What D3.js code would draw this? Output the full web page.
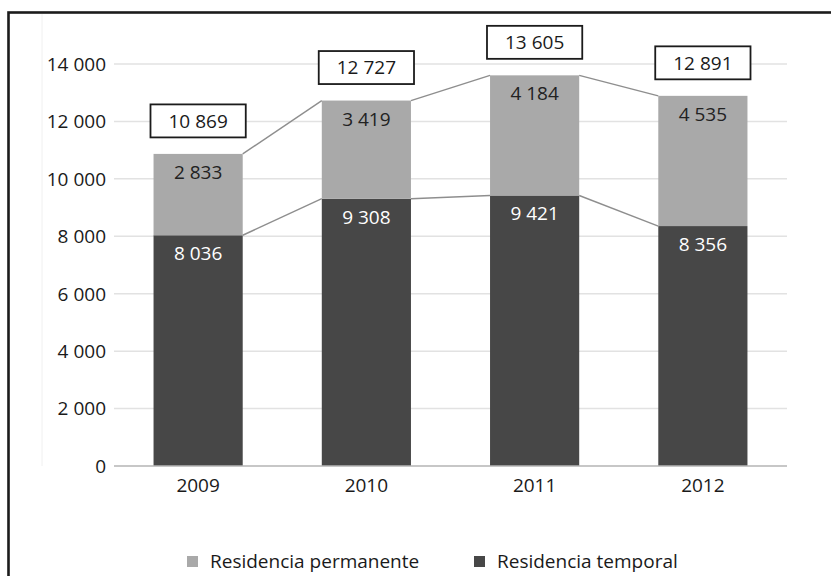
<!DOCTYPE html>
<html>
<head>
<meta charset="utf-8">
<script src="https://cdn.jsdelivr.net/npm/d3@7"></script>
<style>
  body { margin: 0; background: #fff; }
  svg { display: block; font-family: "Open Sans", sans-serif; }
</style>
</head>
<body>
<div id="chart"></div>
<script>
// Chart data
const years = ["2009", "2010", "2011", "2012"];
const temporal = [8036, 9308, 9421, 8356];
const permanente = [2833, 3419, 4184, 4535];
const totals = [10869, 12727, 13605, 12891];
const yTicks = [0, 2000, 4000, 6000, 8000, 10000, 12000, 14000];
const seriesNames = ["Residencia permanente", "Residencia temporal"];

const colors = { permanente: "#a9a9a9", temporal: "#474747" };

const width = 831, height = 576;
const plot = { left: 114, right: 787, top: 64, bottom: 466 };
const fontSize = 19;

const svg = d3.select("#chart").append("svg")
    .attr("width", width)
    .attr("height", height);

// Outer frame (runs off the right and bottom edges)
svg.append("rect")
    .attr("x", 8.5).attr("y", 12.5)
    .attr("width", width + 20).attr("height", height + 20)
    .attr("fill", "none")
    .attr("stroke", "#1b1b1b")
    .attr("stroke-width", 2.6);

// faint plot-area edge
svg.append("line")
    .attr("x1", 42).attr("x2", 42)
    .attr("y1", 14).attr("y2", plot.bottom)
    .attr("stroke", "#f0f0f0");

const x = d3.scaleBand()
    .domain(years)
    .range([plot.left, plot.right])
    .paddingInner(0.47)
    .paddingOuter(0.235);

const y = d3.scaleLinear()
    .domain([0, 14000])
    .range([plot.bottom, plot.top]);

const fmt = v => d3.format(",")(v).replace(",", " ");

// Gridlines
svg.append("g")
    .selectAll("line")
    .data(yTicks.filter(d => d > 0))
    .enter().append("line")
    .attr("x1", plot.left).attr("x2", plot.right)
    .attr("y1", d => y(d)).attr("y2", d => y(d))
    .attr("stroke", "#e2e2e2")
    .attr("stroke-width", 1.5);

// Y tick labels
svg.append("g")
    .selectAll("text")
    .data(yTicks)
    .enter().append("text")
    .attr("x", 106)
    .attr("y", d => y(d))
    .attr("dy", "0.36em")
    .attr("text-anchor", "end")
    .attr("font-size", fontSize)
    .attr("fill", "#1a1a1a")
    .text(d => fmt(d));

const rows = years.map((yr, i) => ({
    year: yr, temporal: temporal[i], permanente: permanente[i], total: totals[i]
}));

// Bars
svg.append("g")
    .selectAll("rect")
    .data(rows)
    .enter().append("rect")
    .attr("x", d => x(d.year))
    .attr("width", x.bandwidth())
    .attr("y", d => y(d.temporal))
    .attr("height", d => y(0) - y(d.temporal))
    .attr("fill", colors.temporal);

svg.append("g")
    .selectAll("rect")
    .data(rows)
    .enter().append("rect")
    .attr("x", d => x(d.year))
    .attr("width", x.bandwidth())
    .attr("y", d => y(d.temporal + d.permanente))
    .attr("height", d => y(d.temporal) - y(d.temporal + d.permanente))
    .attr("fill", colors.permanente);

// Axis baseline
svg.append("line")
    .attr("x1", plot.left).attr("x2", plot.right)
    .attr("y1", y(0)).attr("y2", y(0))
    .attr("stroke", "#b4b4b4")
    .attr("stroke-width", 1.5);

// Connector lines between bars
const links = svg.append("g")
    .attr("stroke", "#8e8e8e")
    .attr("stroke-width", 1.4)
    .attr("fill", "none");
for (let i = 0; i < rows.length - 1; i++) {
    const a = rows[i], b = rows[i + 1];
    [[a.temporal, b.temporal], [a.temporal + a.permanente, b.temporal + b.permanente]].forEach(([v0, v1]) => {
        links.append("line")
            .attr("x1", x(a.year) + x.bandwidth()).attr("y1", y(v0))
            .attr("x2", x(b.year)).attr("y2", y(v1));
    });
}

// Segment labels
svg.append("g")
    .selectAll("text")
    .data(rows)
    .enter().append("text")
    .attr("x", d => x(d.year) + x.bandwidth() / 2)
    .attr("y", d => y(d.temporal) + 25)
    .attr("text-anchor", "middle")
    .attr("font-size", fontSize)
    .attr("fill", "#ffffff")
    .text(d => fmt(d.temporal));

svg.append("g")
    .selectAll("text")
    .data(rows)
    .enter().append("text")
    .attr("x", d => x(d.year) + x.bandwidth() / 2)
    .attr("y", d => y(d.temporal + d.permanente) + 25)
    .attr("text-anchor", "middle")
    .attr("font-size", fontSize)
    .attr("fill", "#222")
    .text(d => fmt(d.permanente));

// Total boxes
const boxes = svg.append("g")
    .selectAll("g")
    .data(rows)
    .enter().append("g")
    .attr("transform", d => `translate(${x(d.year) + x.bandwidth() / 2},${y(d.total) - 33})`);

boxes.append("rect")
    .attr("fill", "#fff")
    .attr("stroke", "#1b1b1b")
    .attr("stroke-width", 1.8);

const boxTexts = boxes.append("text")
    .attr("text-anchor", "middle")
    .attr("dy", "0.36em")
    .attr("font-size", fontSize)
    .attr("fill", "#1a1a1a")
    .text(d => fmt(d.total));

boxTexts.each(function() {
    const w = this.getComputedTextLength() + 36;
    d3.select(this.previousSibling)
        .attr("x", -w / 2).attr("width", w)
        .attr("y", -16.5).attr("height", 33);
});

// X labels
svg.append("g")
    .selectAll("text")
    .data(years)
    .enter().append("text")
    .attr("x", d => x(d) + x.bandwidth() / 2)
    .attr("y", 492)
    .attr("text-anchor", "middle")
    .attr("font-size", fontSize)
    .attr("fill", "#1a1a1a")
    .text(d => d);

// Legend
const legend = svg.append("g")
    .selectAll("g")
    .data(seriesNames)
    .enter().append("g")
    .attr("transform", (d, i) => `translate(${i === 0 ? 187 : 474},556)`);

legend.append("rect")
    .attr("width", 11).attr("height", 11)
    .attr("fill", (d, i) => i === 0 ? colors.permanente : colors.temporal);

legend.append("text")
    .attr("x", 23)
    .attr("y", 11.5)
    .attr("font-size", fontSize)
    .attr("fill", "#1a1a1a")
    .text(d => d);
</script>
</body>
</html>
